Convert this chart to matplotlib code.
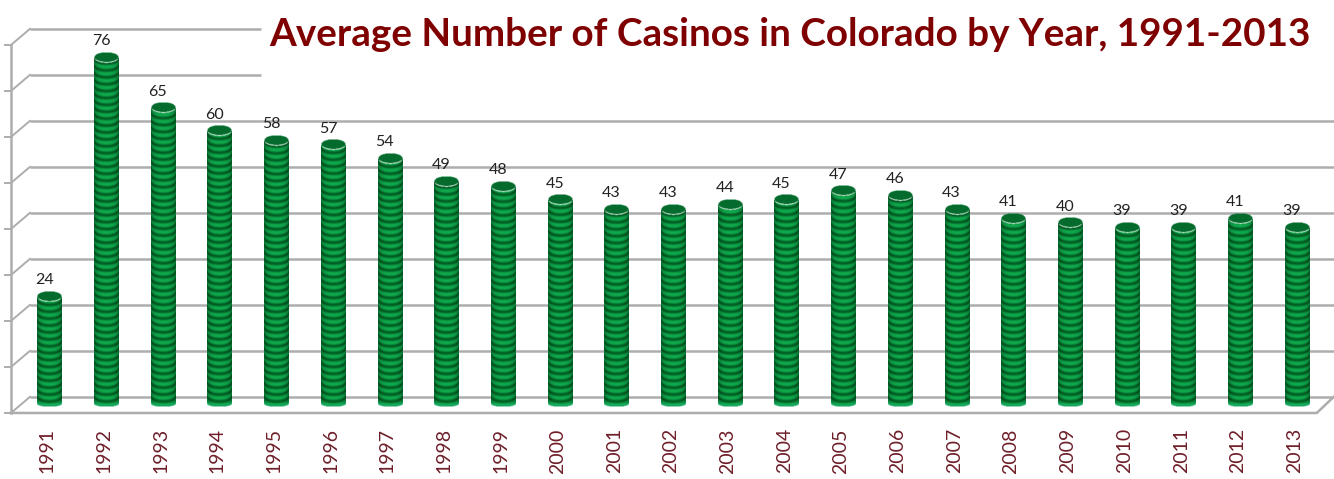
import numpy as np
import matplotlib
matplotlib.use("Agg")
import matplotlib.pyplot as plt

years = [str(y) for y in range(1991, 2014)]
casinos = [24, 76, 65, 60, 58, 57, 54, 49, 48, 45, 43, 43, 44, 45, 47, 46, 43, 41, 40, 39, 39, 41, 39]
grid_levels = [0, 10, 20, 30, 40, 50, 60, 70, 80]

W, H = 1334, 479
GRID = '#adadad'
TITLE = '#7f0000'
YEARC = '#6e1f2a'

# pixel scale of the picture: 56.7 px per year, 4.6 px per casino
fig = plt.figure(figsize=(W/100, H/100), dpi=100)
ax = fig.add_axes([0, 0, 1, 1])
ax.set_xlim(-49.5/56.7, (W-49.5)/56.7)
ax.set_ylim(-(H-407)/4.6, 407/4.6)
ax.axis('off')

front_x, back_x = -0.68, -0.345
front_off, back_off = -1.3, 2.2
right_front, right_back = 22.35, 22.65

# floor and walls of the fake 3d box
for lv in grid_levels:
    y0, y1 = lv+front_off, lv+back_off
    xend = right_back
    if lv >= 70:
        xend = 3.73   # title box covers the two top lines
    ax.plot([back_x, xend], [y1, y1], color=GRID, lw=1.8, zorder=1, solid_capstyle='butt')
    ax.plot([front_x, back_x], [y0, y1], color=GRID, lw=1.4, zorder=1)
    ax.plot([front_x-0.1, front_x], [y0, y0], color=GRID, lw=1.4, zorder=1)
ax.plot([front_x, front_x], [front_off, 80+front_off], color=GRID, lw=1.8, zorder=1)
ax.plot([front_x, right_front, right_back], [front_off, front_off, back_off], color=GRID, lw=1.8, zorder=1)

# one ribbed cylinder per bar
half = 0.215
rib_v = 1.5       # rib period in casinos
cap_v = 1.1       # half height of the lid ellipse
foot_v = 0.6      # sag of the foot

def cylinder(val):
    nx, ny = 48, int((val+cap_v)*4.6*2)
    u = np.linspace(-1, 1, nx)
    v = np.linspace(val+cap_v, 0, ny)
    uu, vv = np.meshgrid(u, v)
    sag = np.sqrt(np.clip(1-uu**2, 0, 1))
    rib = np.clip(0.62+0.6*np.cos(2*np.pi*(vv+cap_v*sag)/rib_v), 0, 1)
    shade = 1-0.3*np.abs(uu)**3
    light = np.array([0.06, 0.66, 0.30])
    dark = np.array([0.0, 0.36, 0.13])
    img = np.zeros((ny, nx, 4))
    for c in range(3):
        img[..., c] = (dark[c]+(light[c]-dark[c])*rib)*shade
    inside = (vv <= val+cap_v*sag) & (vv >= foot_v*(1-sag))
    top = (vv > val-cap_v*sag) & (vv <= val+cap_v*sag)
    # flat dark lid with a thin pale rim
    img[top, :3] = [0.02, 0.42, 0.18]
    rim = np.abs(vv-(val-cap_v*sag)) < 0.1
    img[rim, :3] = [0.85, 0.95, 0.88]
    bot = vv < foot_v*(1-sag)+0.5
    img[bot, :3] = [0.10, 0.66, 0.38]
    img[..., 3] = inside.astype(float)
    return img

for i, val in enumerate(casinos):
    ax.imshow(cylinder(val), extent=[i-half, i+half, 0, val+cap_v], aspect='auto',
              interpolation='bilinear', zorder=3)
    ax.text(i-0.09, val+2.0, str(val), ha='center', va='bottom', fontsize=11.5,
            family='Lato', color='#222222', zorder=4)
    ax.text(i-0.04, -4.6, years[i], rotation=90, ha='center', va='top', fontsize=14,
            family='Lato', color=YEARC, zorder=4)

ax.set_xlim(-49.5/56.7, (W-49.5)/56.7)
ax.set_ylim(-(H-407)/4.6, 407/4.6)

fig.text(790/W, 1-46/H, 'Average Number of Casinos in Colorado by Year, 1991-2013',
         ha='center', va='baseline', fontsize=27.8, fontweight='bold', family='Lato', color=TITLE)
fig.savefig('out.png', dpi=100)
plt.close(fig)
